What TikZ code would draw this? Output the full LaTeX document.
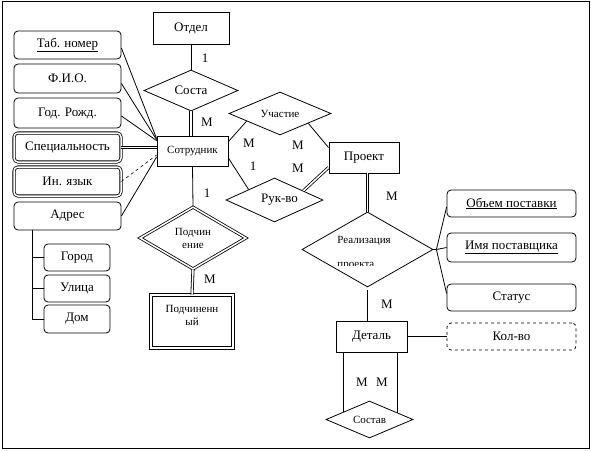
\documentclass[tikz,border=0pt]{standalone}
\usepackage{fontspec}
\setmainfont{Liberation Serif}
\usetikzlibrary{shapes.geometric,calc}
\begin{document}
\begin{tikzpicture}[x=1pt,y=-1pt,line width=0.8pt,
  big/.style={font=\fontsize{13}{15}\selectfont},
  small/.style={font=\fontsize{11}{13}\selectfont},
  ent/.style={draw,rectangle,inner sep=0pt,big},
  att/.style={draw,rectangle,rounded corners=4pt,inner sep=0pt,big},
  rel/.style={draw,diamond,shape aspect=2,inner sep=0pt,big},
  dbl/.style={double,double distance=1.5pt},
  lbl/.style={inner sep=0pt,big}]
\useasboundingbox (0,0) rectangle (591,450);
\draw (2,1) rectangle (589,448);

% entities
\node[ent,minimum width=76pt,minimum height=32pt] (otdel) at (191,28) {Отдел};
\node[ent,small,minimum width=71pt,minimum height=30pt] (sotr) at (192.5,151) {Сотрудник};
\node[ent,minimum width=70pt,minimum height=31pt] (proekt) at (364,157.5) {Проект};
\node[ent,small,dbl,align=center,minimum width=82pt,minimum height=53pt] (podch) at (192,321.5) {Подчиненн\\ый\\~};
\node[ent,minimum width=71pt,minimum height=31pt] (detal) at (371.5,336.5) {Деталь};

% relationships
\node[rel,minimum width=94pt,minimum height=41pt] (sosta) at (191,90.5) {Соста};
\node[rel,small,minimum width=102pt,minimum height=43pt] (uchast) at (280,113.5) {Участие};
\node[rel,minimum width=97pt,minimum height=44pt] (rukvo) at (274.5,200) {\hspace*{10pt}Рук-во};
\node[rel,small,dbl,align=center,minimum width=106pt,minimum height=62pt] (podchin) at (193,238) {Подчин\\ение};
\node[rel,minimum width=131pt,minimum height=75pt] (real) at (367.5,249.5) {};
\node[small,inner sep=0pt,anchor=base west] (realt) at (337,243) {Реализация};
\begin{scope}
  \clip (330,250) rectangle (400,265.5);
  \node[small,inner sep=0pt,anchor=base west] (realt2) at (337,267.5) {проекта};
\end{scope}
\node[rel,small,minimum width=87pt,minimum height=37pt] (sostav) at (369.5,419.5) {Состав};

% attributes of Сотрудник
\node[att,minimum width=107pt,minimum height=28pt] (tab) at (67.5,45) {\underline{Таб. номер}};
\node[att,minimum width=107pt,minimum height=29pt] (fio) at (67.5,78.5) {Ф.И.О.};
\node[att,minimum width=107pt,minimum height=30pt] (god) at (67.5,113) {Год. Рожд.};
\node[att,dbl,minimum width=107pt,minimum height=29pt] (spec) at (67.5,147.5) {Специальность};
\node[att,dbl,minimum width=107pt,minimum height=29pt] (inyaz) at (67.5,181.5) {Ин. язык};
\node[att,minimum width=107pt,minimum height=28pt] (adres) at (67.5,216) {Адрес};
\node[att,minimum width=66pt,minimum height=27pt] (gorod) at (77,257.5) {Город};
\node[att,minimum width=66pt,minimum height=27pt] (ulica) at (77,288.5) {Улица};
\node[att,minimum width=66pt,minimum height=28pt] (dom) at (77,319) {Дом};

% attributes of Реализация
\node[att,minimum width=129pt,minimum height=27pt] (obem) at (511.5,203.5) {\underline{Объем поставки}};
\node[att,minimum width=129pt,minimum height=29pt] (imya) at (511.5,247.5) {\underline{Имя поставщика}};
\node[att,minimum width=129pt,minimum height=27pt] (status) at (511.5,297.5) {Статус};
\node[att,dashed,minimum width=129pt,minimum height=27pt] (kolvo) at (511.5,336.5) {Кол-во};

% connectors
\draw (otdel.south) -- (sosta.north);
\draw[dbl] (sosta.south) -- (sosta.south |- sotr.north);
\draw ([yshift=-3pt]tab.east) -- ([yshift=-3pt]sotr.north west);
\draw ([yshift=-5pt]fio.east) -- ([yshift=-4pt]sotr.north west);
\draw ([yshift=-3pt]god.east) -- ([yshift=-5pt]sotr.north west);
\draw[dbl] (spec.east) -- (spec.east -| sotr.west);
\draw[dashed,line width=0.6pt] (inyaz.east) -- ([yshift=-4pt]sotr.west);
\draw (adres.east) -- ([yshift=-6pt]sotr.west);
\coordinate (trunk) at (32,230);
\draw (trunk) |- (dom.west);
\draw (trunk |- gorod.west) -- (gorod.west);
\draw (trunk |- ulica.west) -- (ulica.west);

\draw (sotr.south) -- (podchin.north);
\draw[dbl] (podchin.south) -- (podch.north);
\draw ([yshift=-6pt]sotr.north east) -- ($(uchast.west)!0.35!(uchast.south)$);
\draw ($(uchast.south)!0.55!(uchast.east)$) -- ([yshift=-6pt]proekt.north west);
\draw ([yshift=-7pt]sotr.east) -- ($(rukvo.west)!0.47!(rukvo.north)$);
\draw[dbl] ($(rukvo.north)!0.59!(rukvo.east)$) -- ([yshift=6pt]proekt.south west);
\draw[dbl] (real.north |- proekt.south) -- (real.north);

\coordinate (fan) at ($(real.east)+(3,0)$);
\draw (real.east) -- (fan);
\draw (fan) -- ([yshift=-3.5pt]obem.west);
\draw (fan) -- (imya.west);
\draw (fan) -- ([yshift=4pt]status.west);

\draw ([yshift=-3pt]real.south) -- (real.south |- detal.north);
\draw (detal.east) -- (kolvo.west);
\coordinate (sl) at ($(sostav.west)!0.414!(sostav.north)$);
\coordinate (sr) at ($(sostav.north)!0.632!(sostav.east)$);
\draw (sl) -- (sl |- detal.south);
\draw (sr) -- (sr |- detal.south);

% cardinality labels
\node[lbl] (l1) at (205,58) {1};
\node[lbl] (l2) at (207,122) {М};
\node[lbl] (l3) at (249,143) {М};
\node[lbl] (l4) at (298,145) {М};
\node[lbl] (l5) at (253,166) {1};
\node[lbl] (l6) at (298,168) {М};
\node[lbl] (l7) at (207,193) {1};
\node[lbl] (l8) at (210,279) {М};
\node[lbl] (l9) at (392,196) {М};
\node[lbl] (l10) at (387,304) {М};
\node[lbl] (l11) at (362,382) {М};
\node[lbl] (l12) at (382,382) {М};
\end{tikzpicture}
\end{document}
